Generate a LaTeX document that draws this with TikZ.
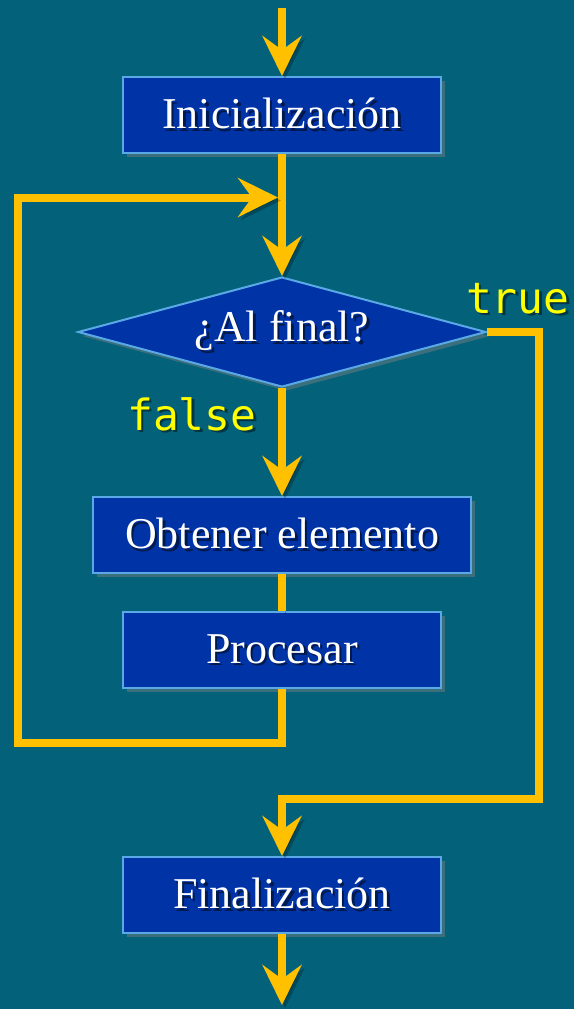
\documentclass[tikz,border=0pt]{standalone}
\usepackage{fontspec}
\setmainfont{Liberation Serif}
\setmonofont{DejaVu Sans Mono}
\usetikzlibrary{arrows.meta,positioning,shapes.geometric,shadows}
\definecolor{bgteal}{HTML}{03627A}
\definecolor{boxblue}{HTML}{0033A6}
\definecolor{boxedge}{HTML}{5AA9E6}
\definecolor{flowgold}{HTML}{FFC000}
\definecolor{lblyellow}{HTML}{FFFF00}
\definecolor{txtshadow}{HTML}{001A4D}
\newcommand{\shtext}[2][txtshadow]{\makebox[0pt][l]{\kern1.2pt\raisebox{-1.2pt}{\textcolor{#1}{#2}}}#2}

\begin{document}
\begin{tikzpicture}[
  x=0.5pt, y=-0.5pt,
  box/.style={draw=boxedge, fill=boxblue, line width=1pt, text=white,
              minimum width=159pt, minimum height=38pt, inner sep=0pt,
              font=\fontsize{22}{26}\selectfont,
              drop shadow={shadow xshift=2pt, shadow yshift=-2pt, opacity=0.45}},
  decision/.style={box, diamond, aspect=3.7, minimum width=204pt, minimum height=55pt},
  flow/.style={draw=flowgold, line width=4pt,
               preaction={draw=black, opacity=0.25, transform canvas={shift={(1.5pt,-1.5pt)}}}},
  arr/.style={flow, -{Stealth[length=20pt, width=19.5pt, inset=7pt]}},
  lbl/.style={text=lblyellow, inner sep=0pt, font=\ttfamily\fontsize{21.5}{24}\selectfont}
]
\useasboundingbox (0,0) rectangle (574,1009);
\fill[bgteal] (0,0) rectangle (574,1009);

% main column
\node[box] (ini) at (282,115) {\shtext{Inicialización}};
\node[decision, below=61pt of ini] (check) {\shtext{¿Al final?}};
\node[box, minimum width=189pt, below=54pt of check] (fetch) {\shtext{Obtener elemento}};
\node[box, below=18.5pt of fetch] (proc) {\shtext{Procesar}};
\node[box, below=83.5pt of proc] (fin) {\shtext{Finalización}};

\node[lbl, anchor=base east] (yes) at (570,313) {\shtext[black!45!bgteal]{true}};
\node[lbl, anchor=base east] (no) at (257,430) {\shtext[black!45!bgteal]{false}};

\coordinate (start) at (282,8);
\coordinate (stop) at (282,1005);
\coordinate (loopcorner) at (17.5,742.5);
\coordinate (loopin) at (278,197.5);
\coordinate (exitcorner) at (539,799);

\draw[arr] (start) -- (ini);
\draw[arr] (ini) -- (check);
\draw[arr] (check) -- (fetch);
\draw[flow] (fetch) -- (proc);
\draw[arr] (proc.south) |- (loopcorner) |- (loopin);
\draw[arr] (check.east) -| (exitcorner) -| (fin.north);
\draw[arr] (fin) -- (stop);
\end{tikzpicture}
\end{document}
